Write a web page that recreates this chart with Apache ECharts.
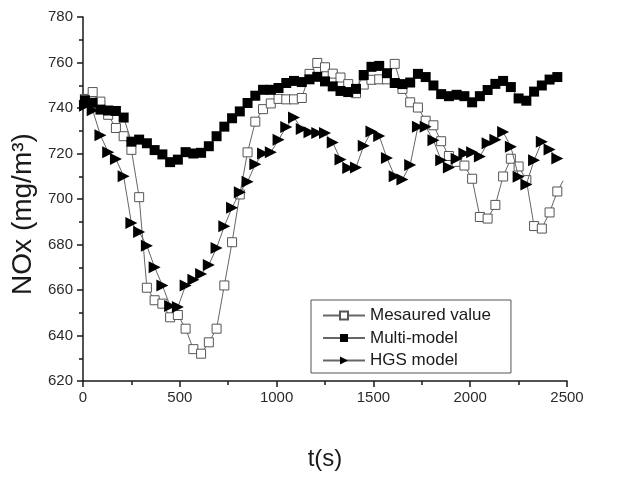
<!DOCTYPE html>
<html>
<head>
<meta charset="utf-8">
<script src="https://cdn.jsdelivr.net/npm/echarts@6/dist/echarts.min.js"></script>
<style>
  html, body { margin: 0; padding: 0; background: #fff; }
  #chart { width: 644px; height: 481px; }
</style>
</head>
<body>
<div id="chart"></div>
<script>
// Sampling instants (s)
const timeS = [10, 50, 90, 130, 170, 210, 250, 290, 330, 370, 410, 450, 490, 530, 570, 610,
  650, 690, 730, 770, 810, 850, 890, 930, 970, 1010, 1050, 1090, 1130, 1170, 1210, 1250,
  1290, 1330, 1370, 1410, 1450, 1490, 1530, 1570, 1610, 1650, 1690, 1730, 1770, 1810,
  1850, 1890, 1930, 1970, 2010, 2050, 2090, 2130, 2170, 2210, 2250, 2290, 2330, 2370,
  2410, 2450];

// NOx concentration (mg/m3)
const measuredValue = [744, 747, 742.8, 737, 731.2, 727.6, 721.6, 700.8, 661, 655.5, 654, 648,
  649, 643, 634, 632, 637, 643, 662, 681, 702, 720.5, 734, 739.5, 742, 744, 743.8, 743.8,
  744.4, 755, 759.8, 757.9, 755.1, 753.4, 750.5, 746.5, 750.3, 752.4, 752.6, 752.6, 759.4,
  748.4, 742.5, 740.2, 734.4, 732.4, 725.4, 718.9, 716.3, 714.7, 708.9, 692.1, 691.4,
  697.4, 709.9, 717.7, 714.3, 708.3, 688.1, 687, 694.1, 703.3];
// trailing sample of the measured record, drawn as line only
const measuredTail = [2480, 708];

const multiModel = [743.4, 742.3, 739.3, 738.9, 738.7, 735.8, 725.2, 726.1, 724.5, 721.5,
  719.6, 716.2, 717.3, 720.6, 720, 720.3, 723.2, 727.6, 731.8, 735.5, 738.5, 742.2, 745.4,
  748, 748, 748.8, 751, 751.9, 751.4, 752.6, 753.7, 751.7, 749.5, 747.5, 747, 748.4, 754.5,
  758.1, 758.5, 755.3, 751, 750.5, 751.2, 755, 753.6, 749.9, 746.1, 745.2, 745.8, 745.2,
  742.5, 745.2, 747.9, 750.6, 751.9, 749.2, 744.2, 743.2, 747.2, 749.9, 752.5, 753.6];

const hgsModel = [741, 739, 728, 720.6, 717.6, 710, 689.5, 685.5, 679.4, 670, 662, 653,
  652.5, 662, 664.5, 667, 671, 678.5, 688, 696.2, 703, 707.6, 715.3, 720, 720.6, 726,
  731.7, 735.8, 730.8, 729.3, 729, 729, 724.8, 717.4, 713.6, 713.9, 723.4, 729.7, 727.7,
  718, 710, 708.6, 715, 731.8, 731.8, 725.8, 717, 713.8, 717.7, 720, 720.5, 718.7, 724.5,
  726, 729.5, 723, 709.8, 706.4, 717, 725.2, 721.8, 717.8];

const seriesNames = ['Mesaured value', 'Multi-model', 'HGS model'];
const xTicks = { min: 0, max: 2500, step: 500 };
const yTicks = { min: 620, max: 780, step: 20 };

const pairs = (vals) => vals.map((v, i) => [timeS[i], v]);
const measuredData = pairs(measuredValue);
measuredData.push({ value: measuredTail, symbol: 'none' });

const FONT = '"Liberation Sans", Arial, sans-serif';
const LINE_COLOR = '#666';
const INK = '#1a1a1a';

const axisCommon = {
  type: 'value',
  splitLine: { show: false },
  axisLine: { show: true, onZero: false, lineStyle: { color: INK, width: 1.5 } },
  axisTick: { show: true, inside: false, length: 6, lineStyle: { color: INK, width: 1.5 } },
  minorTick: { show: true, splitNumber: 2, length: 4, lineStyle: { color: INK, width: 1.5 } },
  axisLabel: { color: '#2a2a2a', fontFamily: FONT, fontSize: 15, formatter: (v) => String(v) },
  nameTextStyle: { color: INK, fontFamily: FONT, fontSize: 24 }
};

const chart = echarts.init(document.getElementById('chart'), null, { renderer: 'canvas' });
chart.setOption({
  backgroundColor: '#fff',
  animation: false,
  grid: { left: 83, right: 77, top: 17, bottom: 100, containLabel: false },
  xAxis: Object.assign({}, axisCommon, {
    min: xTicks.min, max: xTicks.max, interval: xTicks.step,
    name: 't(s)', nameLocation: 'middle', nameGap: 66,
    axisLabel: Object.assign({}, axisCommon.axisLabel, { margin: 9 })
  }),
  yAxis: Object.assign({}, axisCommon, {
    min: yTicks.min, max: yTicks.max, interval: yTicks.step,
    name: 'NOx (mg/m³)', nameLocation: 'middle', nameRotate: 90, nameGap: 35,
    nameTextStyle: Object.assign({}, axisCommon.nameTextStyle, { fontSize: 28, padding: [0, 30, 0, 0] }),
    axisLabel: Object.assign({}, axisCommon.axisLabel, { margin: 10 })
  }),
  legend: {
    orient: 'vertical',
    left: 311, top: 300,
    padding: [7, 20, 4, 11],
    itemGap: 5.5,
    itemWidth: 42, itemHeight: 10,
    borderColor: '#555', borderWidth: 1,
    backgroundColor: '#fff',
    textStyle: { color: INK, fontFamily: FONT, fontSize: 17 },
    data: seriesNames
  },
  series: [
    {
      name: seriesNames[0], type: 'line', data: measuredData,
      symbol: 'rect', symbolSize: 9,
      itemStyle: { color: '#fff', borderColor: '#555', borderWidth: 1 },
      lineStyle: { color: LINE_COLOR, width: 1 },
      z: 2
    },
    {
      name: seriesNames[1], type: 'line', data: pairs(multiModel),
      symbol: 'rect', symbolSize: 10,
      itemStyle: { color: '#000', borderColor: '#000', borderWidth: 0 },
      lineStyle: { color: LINE_COLOR, width: 1 },
      z: 3
    },
    {
      name: seriesNames[2], type: 'line', data: pairs(hgsModel),
      symbol: 'triangle', symbolSize: 12, symbolRotate: -90,
      itemStyle: { color: '#000', borderColor: '#000', borderWidth: 0 },
      lineStyle: { color: LINE_COLOR, width: 1 },
      z: 4
    }
  ]
});
</script>
</body>
</html>
